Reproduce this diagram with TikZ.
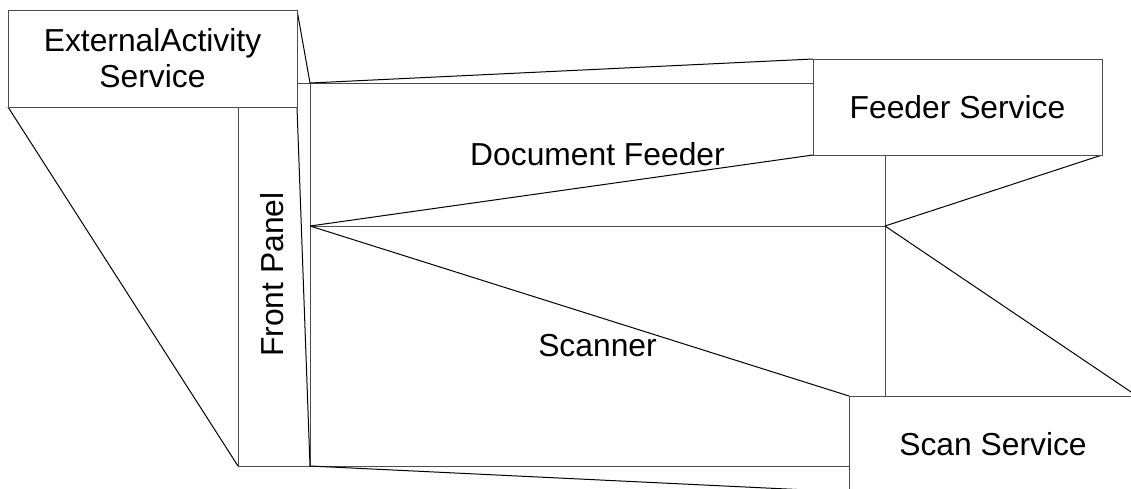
\documentclass[tikz,border=0pt]{standalone}
\usepackage{fontspec}
\setmainfont{Liberation Sans}
\begin{document}
\begin{tikzpicture}[x=1pt,y=-1pt,
  box/.style={draw=black!70,line width=1pt,inner sep=0pt,outer sep=0pt,rectangle},
  svc/.style={box,fill=white,align=center,font=\fontsize{31.8}{36}\selectfont},
  lbl/.style={inner sep=0pt,font=\fontsize{31.8}{36}\selectfont},
  proj/.style={draw=black,line width=1pt}]
\clip (0,0) rectangle (1131,488);
\fill[white] (0,0) rectangle (1131,488);
% regions of the device
\node[box,minimum width=72pt,minimum height=383pt] (fp) at (274,274.5) {};
\node[box,minimum width=575pt,minimum height=143pt] (df) at (597.5,154.5) {};
\node[box,minimum width=575pt,minimum height=240pt] (sc) at (597.5,346) {};
\node[lbl,rotate=90] (fpl) at ([xshift=-2pt]fp.center) {Front Panel};
\node[lbl] (dfl) at (df.center) {Document Feeder};
\node[lbl] (scl) at (sc.center) {Scanner};
% service box placement
\path (152.5,58.5) coordinate (eac) (957.5,107) coordinate (fsc) (993,444) coordinate (ssc);
\node[svc,minimum width=289pt,minimum height=97pt,draw=none,fill=none] (ea0) at (eac) {};
\node[svc,minimum width=289pt,minimum height=96pt,draw=none,fill=none] (fs0) at (fsc) {};
\node[svc,minimum width=288pt,minimum height=96pt,draw=none,fill=none] (ss0) at (ssc) {};
% projection lines
\draw[proj] (ea0.north east) -- (fp.north east);
\draw[proj] (ea0.south west) -- (fp.south west);
\draw[proj] (ea0.south east) -- (fp.south east);
\draw[proj] (fs0.north west) -- (df.north west);
\draw[proj] (fs0.south west) -- (df.south west);
\draw[proj] (fs0.south east) -- (df.south east);
\draw[proj] (ss0.north west) -- (sc.north west);
\draw[proj] (ss0.north east) -- (sc.north east);
\draw[proj] (ss0.south west) -- (sc.south west);
% service boxes
\node[svc,minimum width=289pt,minimum height=97pt] (ea) at (eac) {ExternalActivity\\Service};
\node[svc,minimum width=289pt,minimum height=96pt] (fs) at (fsc) {Feeder Service};
\node[svc,minimum width=288pt,minimum height=96pt] (ss) at (ssc) {Scan Service};
\end{tikzpicture}
\end{document}
